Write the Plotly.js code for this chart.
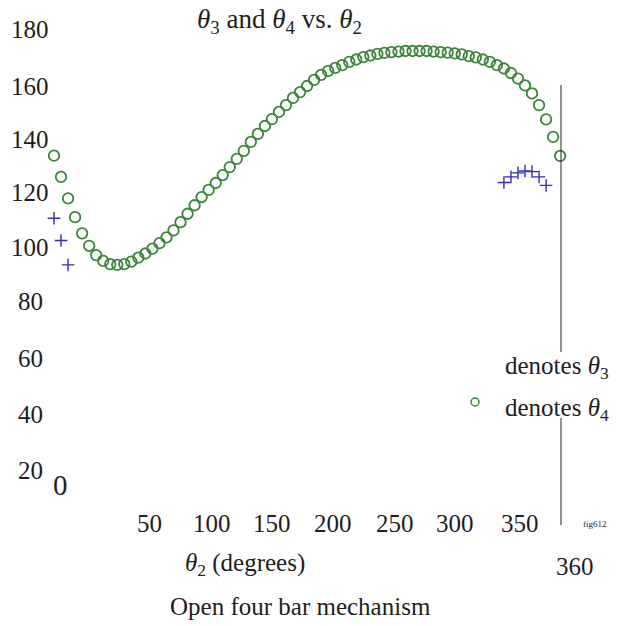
<!DOCTYPE html>
<html>
<head>
<meta charset="utf-8">
<script src="https://cdn.plot.ly/plotly-3.0.1.min.js"></script>
<style>html,body{margin:0;padding:0;background:#fff;}#chart{width:618px;height:626px;}</style>
</head>
<body>
<div id="chart"></div>
<script>
// ---- data ----
const theta2 = [0,5,10,15,20,25,30,35,40,45,50,55,60,65,70,75,80,85,90,95,100,105,110,115,120,125,130,135,140,145,150,155,160,165,170,175,180,185,190,195,200,205,210,215,220,225,230,235,240,245,250,255,260,265,270,275,280,285,290,295,300,305,310,315,320,325,330,335,340,345,350,355,360];
const theta4 = [133.7,125.7,117.6,110.5,104.4,99.7,96.2,94.0,92.8,92.5,92.8,93.7,95.2,96.8,98.6,100.7,102.9,105.5,108.6,111.8,115.0,118.1,120.8,123.4,126.4,129.4,132.5,135.5,138.9,141.9,144.9,147.5,150.2,152.8,155.5,157.7,160.0,162.3,164.2,165.7,166.8,167.9,169.1,170.0,170.9,171.5,172.1,172.5,172.8,173.0,173.2,173.2,173.2,173.2,173.0,172.8,172.6,172.3,171.9,171.3,170.8,170.0,169.1,167.9,166.6,164.9,162.8,160.2,157.2,152.8,147.4,140.8,133.6];
const theta3Angles = [0,5,10,320,325,330,335,340,345,350];
const theta3 = [110.1,101.7,92.5,123.6,125.7,127.2,127.9,127.7,125.7,122.5];

const yTickLabels = ['180','160','140','120','100','80','60','40','20'];
const xTickLabels = ['50','100','150','200','250','300','350'];
const titleText = '<i>θ</i><sub>3</sub> and <i>θ</i><sub>4</sub> vs. <i>θ</i><sub>2</sub>';
const xTitleText = '<i>θ</i><sub>2</sub> (degrees)';
const captionText = 'Open four bar mechanism';
const legendTexts = ['denotes <i>θ</i><sub>3</sub>', 'denotes <i>θ</i><sub>4</sub>'];

// ---- layout helpers (pixel positions in the 618x626 page) ----
const W = 618, H = 626;
const px = x => x / W;
const py = y => 1 - y / H;
const serif = '"Liberation Serif", "Times New Roman", Times, serif';
const ink = '#1e1e1e';

function ann(text, x, y, size, extra) {
  return Object.assign({
    text: text, xref: 'paper', yref: 'paper', x: px(x), y: py(y),
    xanchor: 'center', yanchor: 'middle', showarrow: false,
    font: {family: serif, size: size, color: ink}
  }, extra || {});
}

const yLabelPos = [30, 86, 139, 192, 247, 302, 358, 414, 471];
const xLabelPos = [149, 212, 272, 333, 395, 455, 520];

const annotations = [];
yTickLabels.forEach((t, i) => annotations.push(ann(t, 30, yLabelPos[i], 25)));
xTickLabels.forEach((t, i) => annotations.push(ann(t, xLabelPos[i], 523, 25)));
annotations.push(ann('0', 60, 485, 29));
annotations.push(ann('fig612', 595, 524, 9));
annotations.push(ann(titleText, 279, 21, 27));
annotations.push(ann(xTitleText, 245, 564, 25));
annotations.push(ann('360', 575, 566, 25));
annotations.push(ann(captionText, 300, 606, 25));
annotations.push(ann(legendTexts[0], 557, 367, 25));
annotations.push(ann(legendTexts[1], 557, 409, 25));

const traces = [
  {
    x: theta2, y: theta4, type: 'scatter', mode: 'markers', name: 'θ4',
    marker: {symbol: 'circle-open', size: 10.5, color: '#3a853a', line: {width: 1.8, color: '#3a853a'}},
    hoverinfo: 'x+y'
  },
  {
    x: theta3Angles, y: theta3, type: 'scatter', mode: 'markers', name: 'θ3',
    marker: {symbol: 'cross-thin-open', size: 9, color: '#3030b8', line: {width: 1.4, color: '#3030b8'}},
    hoverinfo: 'x+y'
  }
];

const layout = {
  width: W, height: H,
  margin: {l: 0, r: 0, t: 0, b: 0, pad: 0},
  paper_bgcolor: '#ffffff', plot_bgcolor: '#ffffff',
  showlegend: false,
  font: {family: serif},
  xaxis: {range: [-38.41, 401.14], showgrid: false, zeroline: false, showticklabels: false, showline: false, ticks: ''},
  yaxis: {range: [-43.77, 192.45], showgrid: false, zeroline: false, showticklabels: false, showline: false, ticks: ''},
  annotations: annotations,
  shapes: [
    {type: 'line', xref: 'paper', yref: 'paper', x0: px(561), x1: px(561), y0: py(85), y1: py(352), line: {color: '#222', width: 1}},
    {type: 'line', xref: 'paper', yref: 'paper', x0: px(561), x1: px(561), y0: py(418), y1: py(525), line: {color: '#222', width: 1}},
    {type: 'circle', xref: 'paper', yref: 'paper', x0: px(471), x1: px(479), y0: py(398), y1: py(406), line: {color: '#3a853a', width: 1.5}}
  ]
};

Plotly.newPlot('chart', traces, layout, {staticPlot: true, displayModeBar: false});
</script>
</body>
</html>
